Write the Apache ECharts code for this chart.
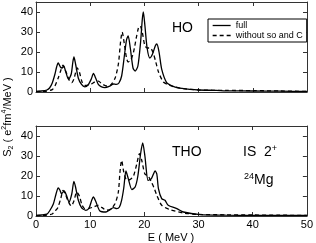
<!DOCTYPE html>
<html><head><meta charset="utf-8">
<script src="https://cdn.jsdelivr.net/npm/echarts@6/dist/echarts.min.js"></script>
<style>html,body{margin:0;padding:0;background:#fff}#c{width:316px;height:243px}</style>
</head><body><div id="c"></div>
<script>
// ---- data ----
const xTicks = [0, 10, 20, 30, 40, 50];
const yTicks = [0, 10, 20, 30, 40];
const seriesNames = ['full', 'without so and C'];

const hoFullE = [0,1,2,2.5,3,3.5,3.8,4.1,4.5,4.8,5.1,5.5,6.0,6.5,6.8,7.0,7.3,7.8,8.4,9.0,9.6,10.2,10.6,11.0,11.5,12.0,12.7,13.5,14.3,14.8,15.3,15.8,16.3,16.7,17.0,17.4,17.9,18.3,18.8,19.3,19.6,19.8,20.1,20.5,21.0,21.5,22.0,22.3,22.7,23.2,24.1,25.0,26.0,28.4,30,33.3,35,40,45,50];
const hoFullV = [0.3,0.5,1.0,2.0,4.5,9,12.5,14.5,12.5,12.0,13.0,10,6.3,9,15,17.5,14,7,3.8,2.6,3.5,6.5,9.3,7,3.8,2.7,2.2,2.8,4,3.8,4.5,8,18,26,28,22,12,10.5,13,25,36,40,33,22,17,19,23,24,20,11.3,4.7,3.2,2.2,1.3,1.0,0.8,0.6,0.5,0.4,0.3];

const hoNoSoE = [0,1,2,3,3.5,4.1,4.6,5.0,5.3,5.7,6.2,6.6,7.0,7.6,8.0,8.5,9.0,9.6,10.2,11.0,11.5,12.2,13.0,13.8,14.6,15.2,15.6,15.9,16.3,16.7,17.0,17.5,18.0,18.5,18.9,19.2,19.6,20.1,20.6,21.1,21.6,22.1,22.6,23.5,24.5,25.3,27.2,30,35,40,45,50];
const hoNoSoV = [0.2,0.3,0.5,1.2,3,7,11,13.4,11.5,9,5.5,4.7,6.5,12,10,5,3.3,3.4,4,5.3,5.4,4,3,3.5,7,14,25,30,24,17,15,16,20,27,32,33,30,23,22,22,19.7,15,10,5,3.5,2.7,1.7,1.0,0.8,0.7,0.5,0.3];

const thoFullE = [0,1,2,2.5,3.2,3.7,4.1,4.4,4.7,5.2,5.6,6.1,6.6,7.0,7.3,7.8,8.4,9.2,9.8,10.3,10.6,11.0,11.8,12.9,13.6,14.3,14.9,15.4,15.8,16.2,16.6,17.0,17.7,18.3,18.8,19.3,19.7,20.1,20.7,21.3,22.0,22.3,22.6,23.2,23.8,24.4,26.0,27.2,30.3,35,40,45,50];
const thoFullV = [0.3,0.5,0.9,2.5,6,11,14,13,11.2,12.5,10.5,7,11,17.3,14.5,8,4.2,2.85,4,8,9.5,7.5,2.5,2,3,4.2,3.7,4.5,7.8,14,22.5,19,13.2,14.5,20,31,36.5,30,17.8,18.7,22.5,21,13.7,8.7,7.85,5.35,3.7,2,0.7,0.4,0.3,0.3,0.3];

const thoNoSoE = [0,1,2,3,3.5,4.0,4.6,5.0,5.4,6.0,6.5,7.0,7.5,8.0,8.5,9.0,9.8,10.6,11.5,12.2,13.0,13.8,14.6,15.2,15.5,15.8,16.2,16.6,17.0,17.5,18.0,18.6,19.1,19.5,20.1,20.7,21.3,21.8,22.3,23.2,24.7,27.2,30,35,40,45,50];
const thoNoSoV = [0.2,0.3,0.5,1.0,2.5,4,9,12.8,11,7,5,7.5,12,10,5.5,3.7,3.8,4.5,5.35,4.2,2.85,3.5,6.2,12,22,27.8,22,18.5,17.9,18.5,20,26,31.2,28,21,20,17,14,10.35,5.35,3.2,1.5,0.8,0.6,0.5,0.4,0.3];

// ---- chart ----
const pair = (e, v) => e.map((x, i) => [x, v[i]]);
const font = 'Liberation Sans, Arial, sans-serif';
const axisCol = '#333';

function xAx(grid, pos, labels) {
  return {
    type: 'value', gridIndex: grid, position: pos, min: 0, max: 50, interval: 10,
    axisLine: {show: true, onZero: false, lineStyle: {color: axisCol, width: 1}},
    axisTick: {show: true, inside: true, length: 4, lineStyle: {color: axisCol}},
    axisLabel: {show: labels, color: '#000', fontFamily: font, fontSize: 11, margin: 3},
    splitLine: {show: false}
  };
}
function yAx(grid, pos, labels) {
  return {
    type: 'value', gridIndex: grid, position: pos, min: 0, max: 45, interval: 10,
    axisLine: {show: true, onZero: false, lineStyle: {color: axisCol, width: 1}},
    axisTick: {show: true, inside: true, length: 4, lineStyle: {color: axisCol}},
    axisLabel: {show: labels, color: '#000', fontFamily: font, fontSize: 11, margin: 3, showMaxLabel: false},
    splitLine: {show: false}
  };
}
function line(name, data, xi, yi, dashed) {
  return {
    name: name, type: 'line', xAxisIndex: xi, yAxisIndex: yi, data: data,
    symbol: 'none', smooth: 0.25, silent: true,
    lineStyle: {color: '#000', width: 1.3, type: dashed ? [4, 3] : 'solid'},
    itemStyle: {color: '#000'}
  };
}

const chart = echarts.init(document.getElementById('c'), null, {renderer: 'canvas'});
chart.setOption({
  animation: false,
  backgroundColor: '#fff',
  grid: [
    {left: 36, top: 2, width: 271, height: 90},
    {left: 36, top: 126, width: 271, height: 90}
  ],
  xAxis: [xAx(0, 'bottom', false), xAx(0, 'top', false), xAx(1, 'bottom', true), xAx(1, 'top', false)],
  yAxis: [yAx(0, 'left', true), yAx(0, 'right', false), yAx(1, 'left', true), yAx(1, 'right', false)],
  legend: {
    left: 208, top: 19, orient: 'vertical', itemGap: 1, itemWidth: 18, itemHeight: 8,
    padding: [2, 4, 2, 4], borderColor: '#000', borderWidth: 1, backgroundColor: '#fff',
    itemStyle: {opacity: 0},
    lineStyle: {width: 1.3},
    textStyle: {fontFamily: font, fontSize: 9, color: '#000'},
    data: seriesNames
  },
  series: [
    line(seriesNames[0], pair(hoFullE, hoFullV), 0, 0, false),
    line(seriesNames[1], pair(hoNoSoE, hoNoSoV), 0, 0, true),
    line(seriesNames[0], pair(thoFullE, thoFullV), 2, 2, false),
    line(seriesNames[1], pair(thoNoSoE, thoNoSoV), 2, 2, true)
  ],
  graphic: [
    {type: 'text', x: 172, y: 28, style: {text: 'HO', font: '14px ' + font, fill: '#000', verticalAlign: 'middle'}},
    {type: 'text', x: 172, y: 152, style: {text: 'THO', font: '14px ' + font, fill: '#000', verticalAlign: 'middle'}},
    {type: 'text', x: 243, y: 152, style: {
      text: '{a|IS  2}{s|+}', verticalAlign: 'middle',
      rich: {a: {fontSize: 14, fontFamily: font, fill: '#000', lineHeight: 16},
             s: {fontSize: 9, fontFamily: font, fill: '#000', verticalAlign: 'top', lineHeight: 16}}}},
    {type: 'text', x: 244, y: 180, style: {
      text: '{s|24}{a|Mg}', verticalAlign: 'middle',
      rich: {a: {fontSize: 14, fontFamily: font, fill: '#000', lineHeight: 16},
             s: {fontSize: 9, fontFamily: font, fill: '#000', verticalAlign: 'top', lineHeight: 16}}}},
    {type: 'text', x: 171, y: 238, style: {text: 'E ( MeV )', font: '11px ' + font, fill: '#000', align: 'center', verticalAlign: 'middle'}},
    {type: 'text', x: 8, y: 117, rotation: Math.PI / 2, style: {
      text: '{a|S}{b|2}{a| ( e}{c|2}{a|fm}{c|4}{a|/MeV )}', align: 'center', verticalAlign: 'middle',
      rich: {a: {fontSize: 11, fontFamily: font, fill: '#000', lineHeight: 14},
             b: {fontSize: 7, fontFamily: font, fill: '#000', verticalAlign: 'bottom', lineHeight: 14},
             c: {fontSize: 7, fontFamily: font, fill: '#000', verticalAlign: 'top', lineHeight: 14}}}}
  ]
});
</script></body></html>
